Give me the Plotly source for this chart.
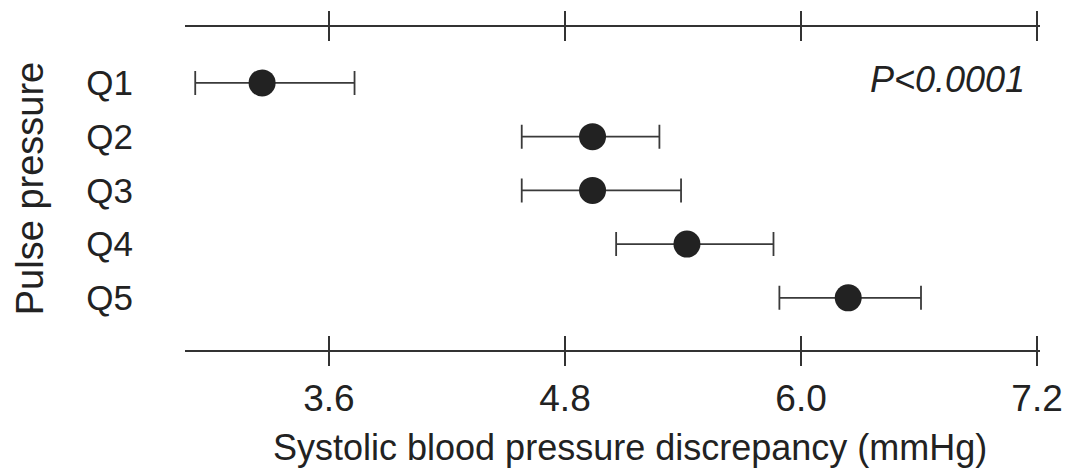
import plotly.graph_objects as go

categories = ["Q1", "Q2", "Q3", "Q4", "Q5"]
means = [3.26, 4.94, 4.94, 5.42, 6.24]
lower = [2.92, 4.58, 4.58, 5.06, 5.89]
upper = [3.73, 5.28, 5.39, 5.86, 6.61]
x_ticks = [3.6, 4.8, 6.0, 7.2]
x_ticklabels = ["3.6", "4.8", "6.0", "7.2"]

ypos = list(range(len(categories)))
err_plus = [u - m for u, m in zip(upper, means)]
err_minus = [m - l for m, l in zip(means, lower)]

FONT = "Liberation Sans, Arial, sans-serif"
INK = "#222222"
FS = 36

fig = go.Figure()
fig.add_trace(go.Scatter(
    x=means, y=ypos, mode="markers",
    marker=dict(size=27, color=INK, line=dict(width=0)),
    error_x=dict(type="data", symmetric=False, array=err_plus, arrayminus=err_minus,
                 color="#3a3a3a", thickness=1.8, width=12),
    showlegend=False, hoverinfo="skip",
))
# invisible trace on the overlay axis to get inward ticks (crossing tick marks)
fig.add_trace(go.Scatter(x=[x_ticks[0]], y=[0], xaxis="x2", mode="markers",
                         marker=dict(size=1, opacity=0), showlegend=False, hoverinfo="skip"))

xr = [2.868, 7.215]
L, R, T, B = 185, 26, 27, 120
W, H = 1066, 470
fig.update_layout(
    width=W, height=H,
    margin=dict(l=L, r=R, t=T, b=B, autoexpand=False),
    paper_bgcolor="white", plot_bgcolor="white",
    font=dict(family=FONT, color=INK, size=FS),
    xaxis=dict(range=xr, tickvals=x_ticks, ticktext=x_ticklabels, automargin=False,
               ticks="outside", ticklen=14, tickwidth=2, tickcolor="#333",
               showline=True, linewidth=2, linecolor="#333", mirror="ticks",
               showgrid=False, zeroline=False, tickfont=dict(size=FS + 1, color=INK),
               ticklabelstandoff=1),
    xaxis2=dict(range=xr, overlaying="x", side="bottom", tickvals=x_ticks, automargin=False,
                ticks="inside", ticklen=14, tickwidth=2, tickcolor="#333",
                showline=False, mirror="ticks", showticklabels=False,
                showgrid=False, zeroline=False),
    yaxis=dict(range=[4.97, -1.04], tickvals=ypos, ticktext=categories, automargin=False,
               ticks="", showline=False, showgrid=False, zeroline=False,
               tickfont=dict(size=FS - 1, color=INK), ticklabelstandoff=51,
               title=dict(text="Pulse pressure", font=dict(size=FS + 2, color=INK), standoff=30)),
)
pw = W - L - R
ph = H - T - B
fig.add_annotation(text="<i>P<0.0001</i>", xref="paper", yref="y",
                   x=(1027 - L) / pw, y=-0.07, showarrow=False,
                   xanchor="right", yanchor="middle", font=dict(size=FS, color=INK))
fig.add_annotation(text="Systolic blood pressure discrepancy (mmHg)", xref="paper", yref="paper",
                   x=(630 - L) / pw, y=(H - B - 447) / ph, showarrow=False,
                   xanchor="center", yanchor="middle", font=dict(size=FS, color=INK))
fig.write_html("out.html")
